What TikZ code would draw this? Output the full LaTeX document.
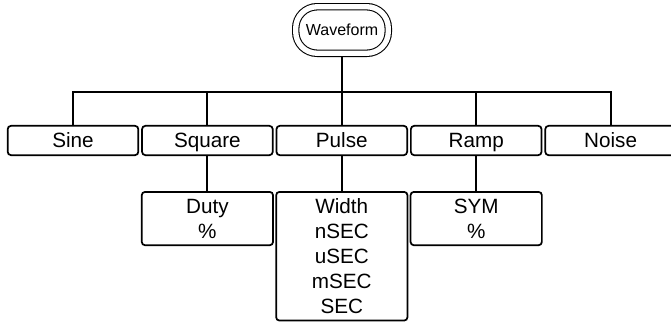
\documentclass[tikz,border=0pt]{standalone}
\usepackage{fontspec}
\setmainfont{Liberation Sans}
\usetikzlibrary{positioning}

\begin{document}
\begin{tikzpicture}[
    x=0.75pt, y=0.75pt,
    font=\fontsize{15.5}{18.75}\selectfont,
    node distance=26.25pt and 1.5pt,
    root/.style = {rectangle, rounded corners=16pt, draw, line width=0.8pt,
                   double, double distance=4pt, minimum width=69.4pt,
                   minimum height=34.9pt, inner sep=0pt, outer sep=2.8pt,
                   font=\fontsize{12}{14}\selectfont},
    box/.style  = {rectangle, rounded corners=2.5pt, draw, line width=1.3pt,
                   inner sep=0pt},
    menu/.style = {box, minimum width=98pt, minimum height=22pt,
                   text height=13pt, text depth=1.9pt},
    sub/.style  = {box, align=center, minimum width=98.5pt, minimum height=40pt},
    link/.style = {line width=1.5pt}
]
\clip (0,0) rectangle (671,-322);

% --- Top node and first menu row --------------------------------------------
\node[root]                      (wave) at (342,-30) {Waveform};
\node[menu]                      (sine) at (73,-140.5) {Sine};
\node[menu, right=of sine]       (square) {Square};
\node[menu, right=of square]     (pulse)  {Pulse};
\node[menu, right=of pulse]      (ramp)   {Ramp};
\node[menu, right=of ramp]       (noise)  {Noise};

% --- Sub menus --------------------------------------------------------------
\node[sub, below=of square]      (duty)  {Duty\\\%};
\node[sub, below=of pulse, minimum height=96.5pt] (width)
  {Width\\nSEC\\uSEC\\mSEC\\SEC};
\node[sub, below=of ramp]        (sym)   {SYM\\\%};

% --- Links ------------------------------------------------------------------
\coordinate (bus) at (342,-92);
\draw[link] (wave) -- (bus);
\draw[link] (sine.north) |- (bus) -| (noise.north);
\foreach \n in {square,pulse,ramp}
  \draw[link] (\n.north) -- (\n.north |- bus);
\foreach \a/\b in {square/duty,pulse/width,ramp/sym}
  \draw[link] (\a) -- (\b);

\end{tikzpicture}
\end{document}
